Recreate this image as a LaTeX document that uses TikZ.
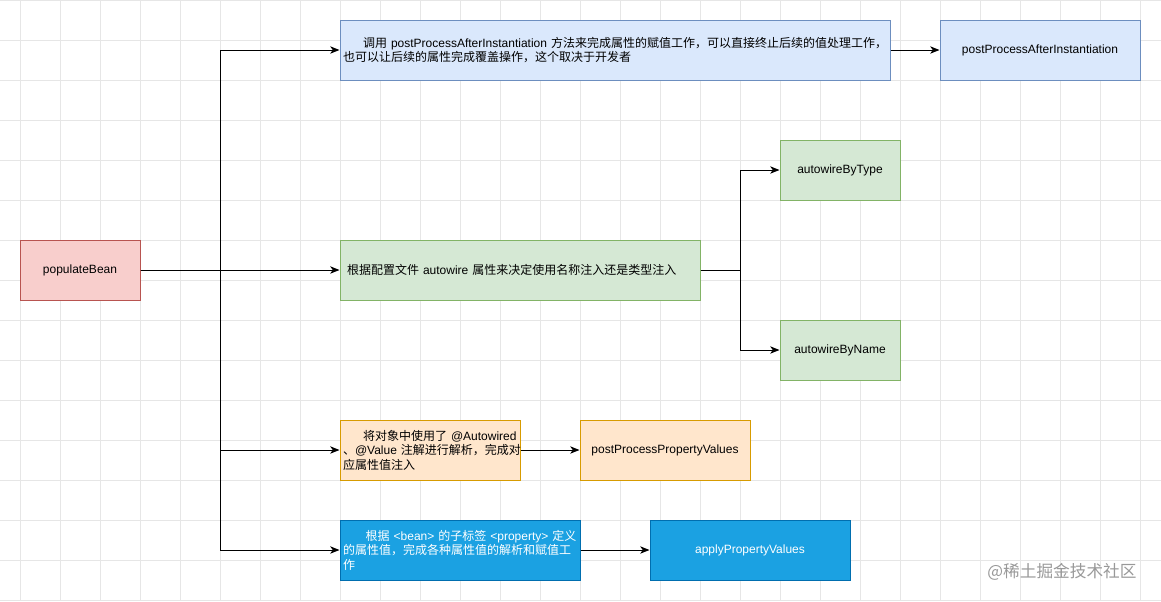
\documentclass[tikz,border=0pt]{standalone}
\usepackage{fontspec}
\setmainfont{Liberation Sans}
\newfontfamily\cjk{Noto Sans CJK SC}
\usetikzlibrary{arrows.meta}
\definecolor{redfill}{HTML}{F8CECC}\definecolor{redline}{HTML}{B85450}
\definecolor{bluefill}{HTML}{DAE8FC}\definecolor{blueline}{HTML}{6C8EBF}
\definecolor{greenfill}{HTML}{D5E8D4}\definecolor{greenline}{HTML}{82B366}
\definecolor{orangefill}{HTML}{FFE6CC}\definecolor{orangeline}{HTML}{D79B00}
\definecolor{darkfill}{HTML}{1BA1E2}\definecolor{darkline}{HTML}{006EAF}
\definecolor{gridc}{HTML}{E6E6E6}
\begin{document}
\begin{tikzpicture}[x=0.75pt,y=-0.75pt,
  every node/.style={font=\fontsize{9}{10.9}\selectfont},
  box/.style={draw, line width=0.75pt, minimum height=45pt, inner xsep=2.25pt, inner ysep=0pt},
  redbox/.style={box, fill=redfill, draw=redline},
  bluebox/.style={box, fill=bluefill, draw=blueline},
  greenbox/.style={box, fill=greenfill, draw=greenline},
  orangebox/.style={box, fill=orangefill, draw=orangeline},
  darkbox/.style={box, fill=darkfill, draw=darkline, text=white},
  arr/.style={line width=0.75pt, -{Stealth[length=7pt,width=5.5pt,inset=2pt]}},
  gridline/.style={draw=gridc, line width=0.6pt}]
\useasboundingbox (0,0) rectangle (1161,601);
\fill[white] (0,0) rectangle (1161,601);
\foreach \x in {20,60,...,1140} \draw[gridline] (\x,0) -- (\x,601);
\foreach \y in {0,40,...,600} \draw[gridline] (0,\y) -- (1161,\y);

\node[redbox, minimum width=90pt] (pop) at (80,270) {populateBean};

\node[bluebox, text width=408pt, align=left] (top) at (615,50)
  {\mbox{\hspace*{15pt}{\cjk 调用} postProcessAfterInstantiation {\cjk 方法来完成属性的赋值工作，可以直接终止后续的值处理工作，}}\\
   \mbox{\cjk 也可以让后续的属性完成覆盖操作，这个取决于开发者}};
\node[bluebox, minimum width=150pt] (pai) at (1040,50) {postProcessAfterInstantiation};

\node[greenbox, text width=265.5pt, align=left] (green) at (520,270)
  {\mbox{\hspace*{3pt}{\cjk 根据配置文件} autowire {\cjk 属性来决定使用名称注入还是类型注入}}};
\node[greenbox, minimum width=90pt] (bytype) at (840,170) {autowireByType};
\node[greenbox, minimum width=90pt] (byname) at (840,350) {autowireByName};

\node[orangebox, text width=130.5pt, align=left] (orange) at (430,450)
  {\mbox{\hspace*{15pt}{\cjk 将对象中使用了} @Autowired}\\
   \mbox{{\cjk 、}@Value {\cjk 注解进行解析，完成对}}\\
   \mbox{\cjk 应属性值注入}};
\node[orangebox, minimum width=127.5pt] (ppv) at (665,450) {postProcessPropertyValues};

\node[darkbox, text width=175.5pt, align=left] (dark) at (460,550)
  {\mbox{\hspace*{17pt}{\cjk 根据} <bean> {\cjk 的子标签} <property> {\cjk 定义}}\\
   \mbox{\cjk 的属性值，完成各种属性值的解析和赋值工}\\
   \mbox{\cjk 作}};
\node[darkbox, minimum width=150pt] (apply) at (750,550) {applyPropertyValues};

\draw[arr] (pop.east) -- ++(80,0) |- (top.west);
\draw[arr] (pop.east) -- (green.west);
\draw[arr] (pop.east) -- ++(80,0) |- (orange.west);
\draw[arr] (pop.east) -- ++(80,0) |- (dark.west);
\draw[arr] (top.east) -- (pai.west);
\draw[arr] (green.east) -- ++(40,0) |- (bytype.west);
\draw[arr] (green.east) -- ++(40,0) |- (byname.west);
\draw[arr] (orange.east) -- (ppv.west);
\draw[arr] (dark.east) -- (apply.west);

\node[text=black!40, font=\cjk\fontsize{12.5}{14}\selectfont] (wm) at (1062,572) {@稀土掘金技术社区};
\end{tikzpicture}
\end{document}
